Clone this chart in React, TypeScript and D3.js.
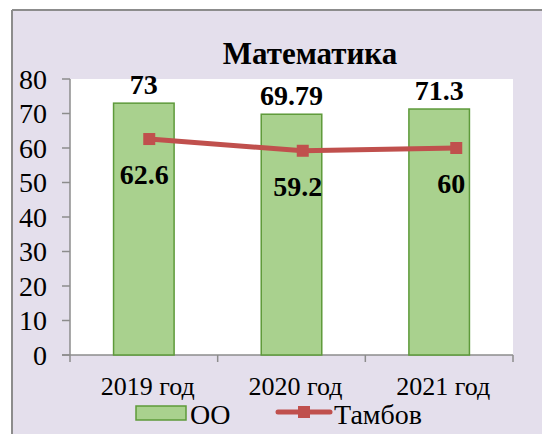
import React from "react";
import * as d3 from "d3";

// chart data
const categories = ["2019 год", "2020 год", "2021 год"];
const ooValues = [73, 69.79, 71.3];
const tambovValues = [62.6, 59.2, 60];
const yTicks = [0, 10, 20, 30, 40, 50, 60, 70, 80];

const W = 542;
const H = 434;
const plot = { left: 70, right: 513, top: 79, bottom: 355 };
const font = { fontFamily: "Liberation Serif" };

function App() {
  const x = d3
    .scaleBand()
    .domain(categories)
    .range([plot.left, plot.right])
    .paddingInner(0.59)
    .paddingOuter(0.295);
  // line series sits on a slightly wider category axis (as in the source)
  const xLine = d3
    .scaleBand()
    .domain(categories)
    .range([plot.left + 2.5, plot.right + 20])
    .paddingInner(0)
    .paddingOuter(0);
  const y = d3.scaleLinear().domain([0, 80]).range([plot.bottom, plot.top]);

  const lx = (c: string) => (xLine(c) as number) + xLine.bandwidth() / 2;
  const line = d3
    .line<number>()
    .x((_, i) => lx(categories[i]))
    .y((d) => y(d));

  const step = (plot.right - plot.left) / categories.length;
  const xTickPos = d3.range(categories.length + 1).map((i) => plot.left + i * step);

  return (
    <svg width={W} height={H} style={{ position: "absolute", left: 0, top: 0 }}>
      <rect x={12} y={10} width={W - 12} height={H - 10} fill="#e4dfec" />
      <line x1={12} y1={10} x2={W} y2={10} stroke="#8c8c8c" strokeWidth={2} />
      <line x1={12} y1={10} x2={12} y2={H} stroke="#8c8c8c" strokeWidth={2} />

      <text x={310} y={64} textAnchor="middle" fontSize={31} fontWeight="bold" style={font}>
        Математика
      </text>

      <rect
        x={plot.left}
        y={plot.top}
        width={plot.right - plot.left}
        height={plot.bottom - plot.top}
        fill="#ffffff"
      />

      {/* y axis */}
      <line x1={plot.left} y1={plot.top} x2={plot.left} y2={plot.bottom} stroke="#8c8c8c" strokeWidth={1.5} />
      {yTicks.map((t) => (
        <g key={t}>
          <line x1={plot.left - 8} x2={plot.left} y1={y(t)} y2={y(t)} stroke="#8c8c8c" strokeWidth={1.5} />
          <text x={47} y={y(t)} dy="0.34em" textAnchor="end" fontSize={28} style={font}>
            {t}
          </text>
        </g>
      ))}

      {/* x axis */}
      <line x1={plot.left - 8} x2={plot.right} y1={plot.bottom} y2={plot.bottom} stroke="#8c8c8c" strokeWidth={1.5} />
      {xTickPos.map((p, i) => (
        <line key={i} x1={p} x2={p} y1={plot.bottom} y2={plot.bottom + 7} stroke="#8c8c8c" strokeWidth={1.5} />
      ))}
      {categories.map((c) => (
        <text
          key={c}
          x={(x(c) as number) + x.bandwidth() / 2 + 4}
          y={395}
          textAnchor="middle"
          fontSize={26}
          style={font}
        >
          {c}
        </text>
      ))}

      {/* bars */}
      {categories.map((c, i) => (
        <g key={c}>
          <rect
            x={x(c)}
            y={y(ooValues[i])}
            width={x.bandwidth()}
            height={plot.bottom - y(ooValues[i])}
            fill="#a9d18e"
            stroke="#5e9a3a"
            strokeWidth={1.5}
          />
          <text
            x={(x(c) as number) + x.bandwidth() / 2}
            y={y(ooValues[i]) - 9}
            textAnchor="middle"
            fontSize={28}
            fontWeight="bold"
            style={font}
          >
            {ooValues[i]}
          </text>
        </g>
      ))}

      {/* line */}
      <path d={line(tambovValues) || ""} fill="none" stroke="#c0504d" strokeWidth={5} />
      {tambovValues.map((v, i) => (
        <g key={i}>
          <rect x={lx(categories[i]) - 6} y={y(v) - 6} width={12} height={12} fill="#c0504d" />
          <text
            x={lx(categories[i]) - 5}
            y={y(v) + 45}
            textAnchor="middle"
            fontSize={28}
            fontWeight="bold"
            style={font}
          >
            {v}
          </text>
        </g>
      ))}

      {/* legend */}
      <rect x={136} y={406} width={50} height={14} fill="#a9d18e" stroke="#5e9a3a" strokeWidth={1.5} />
      <text x={190} y={424} fontSize={28} style={font}>
        ОО
      </text>
      <line x1={278} x2={330} y1={412} y2={412} stroke="#c0504d" strokeWidth={5} strokeLinecap="round" />
      <rect x={298} y={406} width={12} height={12} fill="#c0504d" />
      <text x={334} y={424} fontSize={28} style={font}>
        Тамбов
      </text>
    </svg>
  );
}

export default App;
